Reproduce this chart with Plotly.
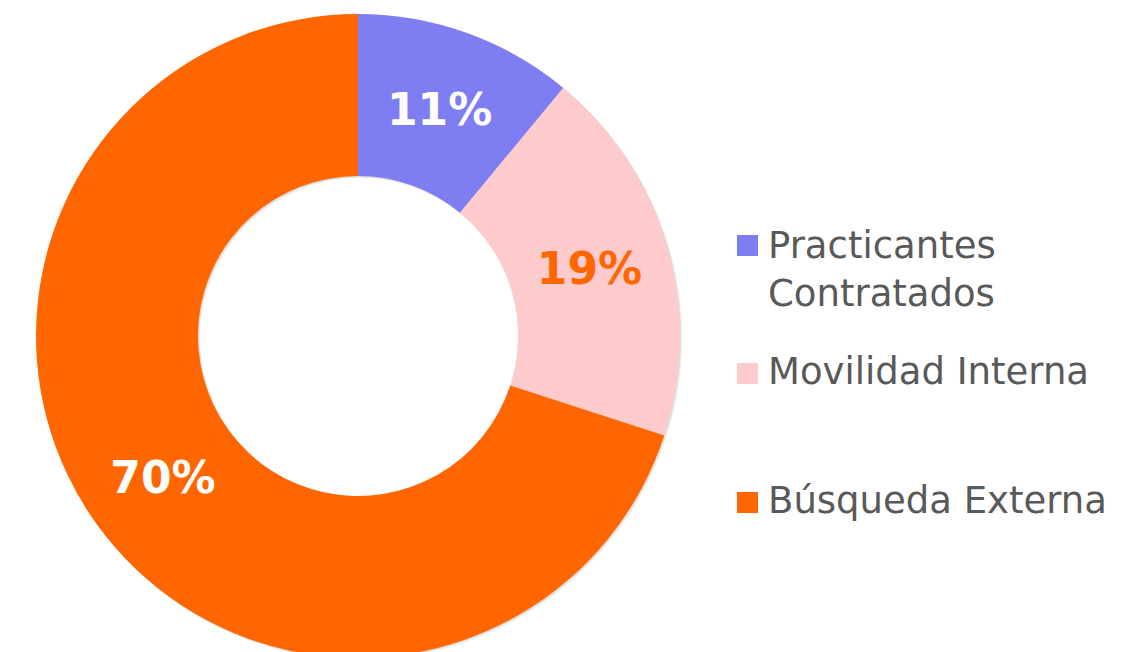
import plotly.graph_objects as go

labels = ["Practicantes Contratados", "Movilidad Interna", "Búsqueda Externa"]
legend_names = [["Practicantes", "Contratados"], ["Movilidad Interna"], ["Búsqueda Externa"]]
values = [11, 19, 70]
colors = ["#7F7DF2", "#FDCBCB", "#FF6600"]
text_colors = ["#FFFFFF", "#FF6600", "#FFFFFF"]

W, H = 1132, 652
# page body has an 8px margin, so figure coordinates are page minus 8
cx, cy, R = 350, 328, 322
HOLE = 0.497


def dom(dx, dy):
    return dict(x=[(cx - R + dx) / W, (cx + R + dx) / W],
                y=[(H - (cy + R + dy)) / H, (H - (cy - R + dy)) / H])


fig = go.Figure()
# soft drop shadow made of two offset grey rings
for shift, col in [(2, "#efefef"), (1, "#dcdcdc")]:
    fig.add_trace(go.Pie(
        values=[1], hole=HOLE, sort=False, textinfo="none",
        marker=dict(colors=[col], line=dict(width=0)),
        domain=dom(shift, shift), showlegend=False, hoverinfo="skip",
    ))

fig.add_trace(go.Pie(
    labels=labels,
    values=values,
    hole=HOLE,
    sort=False,
    direction="clockwise",
    rotation=0,
    marker=dict(colors=colors, line=dict(width=0)),
    texttemplate="%{percent:.0%}",
    textposition="inside",
    insidetextorientation="horizontal",
    textfont=dict(family="DejaVu Sans", size=44, color=text_colors, weight="bold"),
    domain=dom(0, 0),
    showlegend=False,
    hoverinfo="label+percent",
))

# legend built from labels and colors
sq_y = [237.5, 365.5, 494.5]
base_y = [249, 375, 504]
for names, col, sy, by in zip(legend_names, colors, sq_y, base_y):
    fig.add_shape(type="rect", xref="paper", yref="paper",
                  x0=729 / W, x1=750 / W, y0=1 - (sy + 10.5) / H, y1=1 - (sy - 10.5) / H,
                  fillcolor=col, line=dict(width=0))
    fig.add_annotation(x=758 / W, y=1 - (by - 35) / H, xref="paper", yref="paper",
                       xanchor="left", yanchor="top", align="left", showarrow=False,
                       text="<br>".join(names),
                       font=dict(family="DejaVu Sans", size=37, color="#595959"))

fig.update_layout(
    width=W, height=H,
    margin=dict(l=0, r=0, t=0, b=0),
    paper_bgcolor="white", plot_bgcolor="white",
)
fig.write_html("out.html")
